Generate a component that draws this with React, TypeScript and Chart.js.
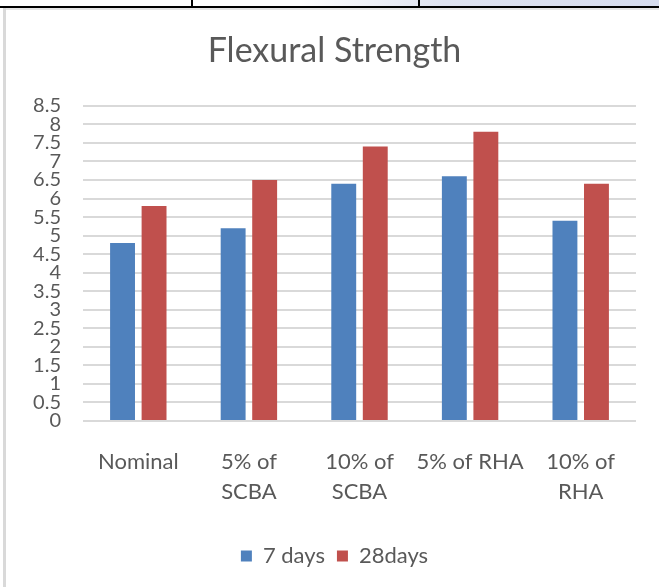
import React, { useEffect, useRef } from "react";
import { Chart, registerables } from "chart.js";

Chart.register(...registerables);

const categories: (string | string[])[] = [
  "Nominal",
  ["5% of", "SCBA"],
  ["10% of", "SCBA"],
  "5% of RHA",
  ["10% of", "RHA"],
];
const days7 = [4.8, 5.2, 6.4, 6.6, 5.4];
const days28 = [5.8, 6.5, 7.4, 7.8, 6.4];
const seriesNames = ["7 days", "28days"];
const yMin = 0;
const yMax = 8.5;
const yStep = 0.5;

const FONT = "Lato, 'Open Sans', sans-serif";
const TEXT = "#595959";

export default function App() {
  const ref = useRef<HTMLCanvasElement | null>(null);
  useEffect(() => {
    if (!ref.current) return;
    const chart = new Chart(ref.current, {
      type: "bar",
      data: {
        labels: categories,
        datasets: [
          {
            label: seriesNames[0],
            data: days7,
            backgroundColor: "#4f81bd",
            categoryPercentage: 0.57,
            barPercentage: 0.79,
          },
          {
            label: seriesNames[1],
            data: days28,
            backgroundColor: "#c0504d",
            categoryPercentage: 0.57,
            barPercentage: 0.79,
          },
        ],
      },
      options: {
        animation: false,
        responsive: false,
        maintainAspectRatio: false,
        layout: { padding: { left: 33, right: 23, top: 20, bottom: 10 } },
        plugins: {
          title: {
            display: true,
            text: "Flexural Strength",
            color: TEXT,
            font: { family: FONT, size: 34, weight: "normal", lineHeight: 1.2 },
            padding: { top: 11, bottom: 34 },
          },
          legend: {
            position: "bottom",
            labels: {
              color: TEXT,
              font: { family: FONT, size: 22 },
              boxWidth: 11,
              boxHeight: 11,
              padding: 12,
            },
          },
          tooltip: { enabled: false },
        },
        scales: {
          x: {
            grid: { display: false, drawTicks: false },
            border: { display: false },
            ticks: {
              color: TEXT,
              font: { family: FONT, size: 22, lineHeight: 30 / 22 },
              padding: 26,
              maxRotation: 0,
              autoSkip: false,
            },
          },
          y: {
            min: yMin,
            max: yMax,
            grid: { color: "#d9d9d9", lineWidth: 2, drawTicks: false },
            border: { display: false },
            ticks: {
              stepSize: yStep,
              color: TEXT,
              font: { family: FONT, size: 20, lineHeight: 1 },
              padding: 22,
              autoSkip: false,
              callback: (v: any) => String(Number(v)),
            },
            afterFit: (s: any) => {
              s.width = 50;
            },
          },
        },
      },
    });
    return () => chart.destroy();
  }, []);

  return (
    <div style={{ position: "absolute", left: 0, top: 0, width: 659, height: 587, background: "#fff", overflow: "hidden" }}>
      <div style={{ position: "absolute", left: 300, top: 0, width: 359, height: 6, background: "linear-gradient(90deg, #ffffff, #dfe3f0 40%, #d6dcee)" }} />
      <div style={{ position: "absolute", left: 0, top: 6, width: 659, height: 2, background: "#000" }} />
      <div style={{ position: "absolute", left: 191, top: 0, width: 2, height: 7, background: "#000" }} />
      <div style={{ position: "absolute", left: 418, top: 0, width: 2, height: 7, background: "#000" }} />
      <div style={{ position: "absolute", left: 3, top: 8, width: 656, height: 2, background: "#e6e6e6" }} />
      <div style={{ position: "absolute", left: 3, top: 8, width: 3, height: 579, background: "#d9d9d9" }} />
      <canvas ref={ref} width={659} height={587} style={{ position: "absolute", left: 0, top: 0, width: 659, height: 587 }} />
    </div>
  );
}
